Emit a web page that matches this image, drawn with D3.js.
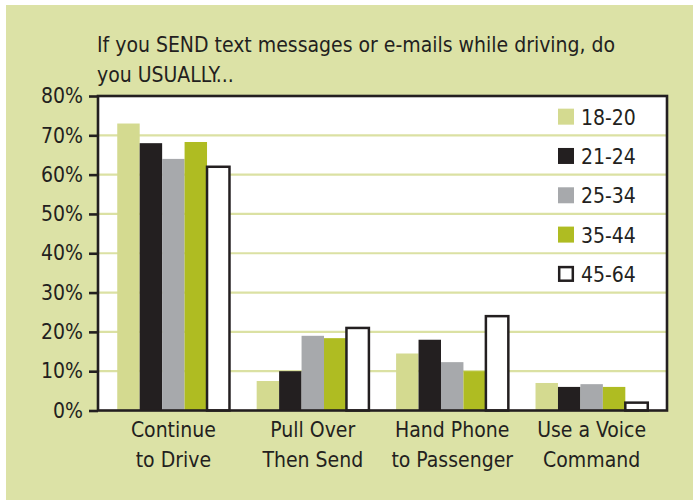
<!DOCTYPE html>
<html lang="en">
<head>
<meta charset="UTF-8">
<title>Texting while driving</title>
<script src="https://d3js.org/d3.v7.min.js"></script>
<style>
  html, body { margin: 0; padding: 0; background: #fff; }
  text {
    font-family: "DejaVu Sans Condensed", "Liberation Sans Narrow", sans-serif;
    font-stretch: condensed;
    fill: #231f20;
  }
</style>
</head>
<body>
<div id="chart"></div>
<script>
// categories (two lines each) and age groups
const categories = [
  ["Continue", "to Drive"],
  ["Pull Over", "Then Send"],
  ["Hand Phone", "to Passenger"],
  ["Use a Voice", "Command"]
];
const ageGroups = ["18-20", "21-24", "25-34", "35-44", "45-64"];

// percent values, one array per age group (same order as categories)
const s18_20 = [73, 7.5, 14.5, 7];
const s21_24 = [68, 10, 18, 6];
const s25_34 = [64, 19, 12.3, 6.7];
const s35_44 = [68.3, 18.4, 10, 6];
const s45_64 = [62, 21, 24, 2];

const yTicks = [0, 10, 20, 30, 40, 50, 60, 70, 80];
const titleLines = ["If you SEND text messages or e-mails while driving, do", "you USUALLY..."];

const seriesValues = [s18_20, s21_24, s25_34, s35_44, s45_64];
const colors = ["#d4da90", "#231f20", "#a7a9ac", "#afbc22", "#ffffff"];
const ink = "#231f20";

const W = 693, H = 500;
const plotL = 98, plotR = 667, plotT = 96, plotB = 410.5;

const svg = d3.select("#chart").append("svg")
  .attr("width", W)
  .attr("height", H);

// green panel
svg.append("rect")
  .attr("x", 6).attr("y", 5)
  .attr("width", W - 6).attr("height", H - 5)
  .attr("fill", "#dce2a6");

// title
svg.selectAll(".title")
  .data(titleLines)
  .enter().append("text")
  .attr("class", "title")
  .attr("x", 97)
  .attr("y", (d, i) => 51.5 + i * 30)
  .style("font-size", "21px")
  .text(d => d);

// scales
const x0 = d3.scaleBand()
  .domain(d3.range(categories.length))
  .range([plotL, plotR])
  .paddingInner(0.195)
  .paddingOuter(0.138);

const x1 = d3.scaleBand()
  .domain(d3.range(ageGroups.length))
  .range([0, x0.bandwidth()]);

const y = d3.scaleLinear()
  .domain([0, 80])
  .range([plotB, plotT]);

// plot background
svg.append("rect")
  .attr("x", plotL).attr("y", plotT)
  .attr("width", plotR - plotL).attr("height", plotB - plotT)
  .attr("fill", "#fff");

// gridlines
svg.selectAll(".grid")
  .data(yTicks.slice(1, -1))
  .enter().append("line")
  .attr("class", "grid")
  .attr("x1", plotL).attr("x2", plotR)
  .attr("y1", d => y(d)).attr("y2", d => y(d))
  .attr("stroke", "#dbe1a3")
  .attr("stroke-width", 2.2);

// bars
const groups = svg.selectAll(".group")
  .data(categories)
  .enter().append("g")
  .attr("class", "group")
  .attr("transform", (d, i) => `translate(${x0(i)},0)`);

groups.selectAll("rect")
  .data((d, ci) => seriesValues.map((s, si) => ({ si: si, v: s[ci] })))
  .enter().append("rect")
  .attr("x", d => x1(d.si))
  .attr("y", d => y(d.v))
  .attr("width", x1.bandwidth())
  .attr("height", d => y(0) - y(d.v))
  .attr("fill", d => colors[d.si])
  .attr("stroke", d => d.si === 4 ? ink : "none")
  .attr("stroke-width", 2.5);

// frame
svg.append("rect")
  .attr("x", plotL).attr("y", plotT)
  .attr("width", plotR - plotL).attr("height", plotB - plotT)
  .attr("fill", "none")
  .attr("stroke", ink)
  .attr("stroke-width", 2.6);

// y axis
const yAxis = d3.axisLeft(y)
  .tickValues(yTicks)
  .tickSize(9)
  .tickPadding(6)
  .tickFormat(d => d + "%");

const gy = svg.append("g")
  .attr("transform", `translate(${plotL},0)`)
  .call(yAxis);
gy.select(".domain").remove();
gy.selectAll(".tick line").attr("stroke", ink).attr("stroke-width", 2.6);
gy.selectAll(".tick text")
  .attr("fill", ink)
  .style("font-size", "21px");
gy.attr("font-family", null).attr("font-size", null);

// category labels
svg.selectAll(".cat")
  .data(categories)
  .enter().append("text")
  .attr("class", "cat")
  .attr("text-anchor", "middle")
  .attr("x", (d, i) => x0(i) + x0.bandwidth() / 2)
  .attr("y", 437)
  .style("font-size", "21px")
  .selectAll("tspan")
  .data(d => d)
  .enter().append("tspan")
  .attr("x", function () { return d3.select(this.parentNode).attr("x"); })
  .attr("dy", (d, i) => i === 0 ? 0 : 30)
  .text(d => d);

// legend
const legend = svg.selectAll(".legend")
  .data(ageGroups)
  .enter().append("g")
  .attr("class", "legend")
  .attr("transform", (d, i) => `translate(558,${y(75 - i * 10) + 1})`);

legend.append("rect")
  .attr("x", (d, i) => i === 4 ? 1.2 : 0)
  .attr("y", (d, i) => i === 4 ? -6.8 : -8)
  .attr("width", (d, i) => i === 4 ? 13.6 : 16)
  .attr("height", (d, i) => i === 4 ? 13.6 : 16)
  .attr("fill", (d, i) => colors[i])
  .attr("stroke", (d, i) => i === 4 ? ink : "none")
  .attr("stroke-width", 2.5);

legend.append("text")
  .attr("x", 23)
  .attr("y", 8)
  .style("font-size", "21px")
  .text(d => d);
</script>
</body>
</html>
